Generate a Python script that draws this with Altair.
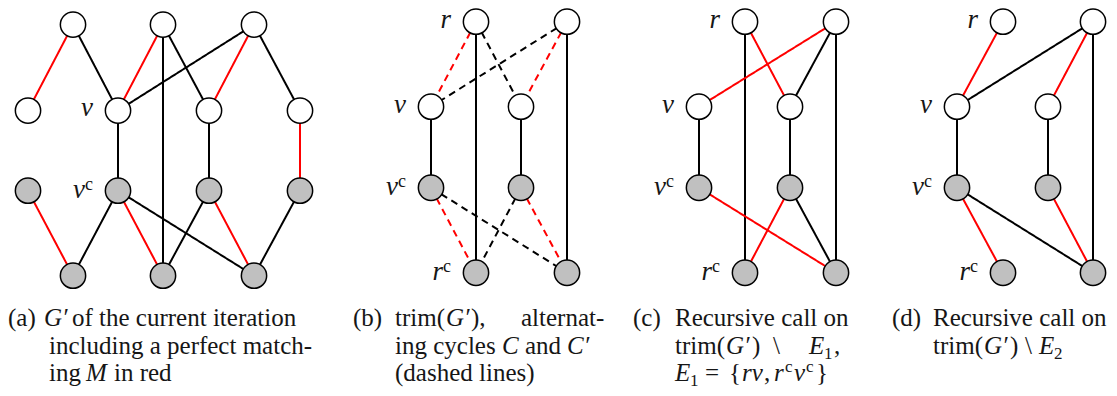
import altair as alt
import pandas as pd

# ---------------- node data (positions, in its pixels) -------------
a_ids = ["t1", "t2", "t3", "w1", "w2", "w3", "w4", "g1", "g2", "g3", "g4", "b1", "b2", "b3"]
a_x = [73, 163, 254, 28, 118, 209, 300, 28, 118, 209, 300, 73, 163, 254]
a_y = [18, 18, 18, 106, 106, 106, 106, 188, 188, 188, 188, 275, 275, 275]
a_fill = ["white"] * 7 + ["grey"] * 7

bcd_ids = ["r", "q", "v", "w", "vc", "wc", "rc", "qc"]
bcd_y = [15, 15, 102, 102, 185, 185, 272, 272]
bcd_fill = ["white", "white", "white", "white", "grey", "grey", "grey", "grey"]
b_x = [476, 567, 431, 521, 431, 521, 476, 567]
c_x = [745, 836, 699, 790, 699, 790, 745, 836]
d_x = [1003, 1093, 957, 1048, 957, 1048, 1003, 1093]

# ---------------- edges: (from, to, colour, dash) -------------
a_edges = [
    ("t1", "w1", "red", "solid"), ("t1", "w2", "black", "solid"),
    ("t2", "w2", "red", "solid"), ("t2", "b2", "black", "solid"),
    ("t2", "w3", "black", "solid"), ("t3", "w2", "black", "solid"),
    ("t3", "w3", "red", "solid"), ("t3", "w4", "black", "solid"),
    ("w2", "g2", "black", "solid"), ("w3", "g3", "black", "solid"),
    ("w4", "g4", "red", "solid"), ("g1", "b1", "red", "solid"),
    ("g2", "b1", "black", "solid"), ("g2", "b2", "red", "solid"),
    ("g2", "b3", "black", "solid"), ("g3", "b2", "black", "solid"),
    ("g3", "b3", "red", "solid"), ("g4", "b3", "black", "solid"),
]
b_edges = [
    ("r", "v", "red", "dashed"), ("r", "rc", "black", "solid"),
    ("r", "w", "black", "dashed"), ("q", "v", "black", "dashed"),
    ("q", "w", "red", "dashed"), ("q", "qc", "black", "solid"),
    ("v", "vc", "black", "solid"), ("w", "wc", "black", "solid"),
    ("vc", "rc", "red", "dashed"), ("vc", "qc", "black", "dashed"),
    ("wc", "rc", "black", "dashed"), ("wc", "qc", "red", "dashed"),
]
c_edges = [
    ("r", "rc", "black", "solid"), ("r", "w", "red", "solid"),
    ("q", "v", "red", "solid"), ("q", "w", "black", "solid"),
    ("q", "qc", "black", "solid"), ("v", "vc", "black", "solid"),
    ("w", "wc", "black", "solid"), ("vc", "qc", "red", "solid"),
    ("wc", "rc", "red", "solid"), ("wc", "qc", "black", "solid"),
]
d_edges = [
    ("r", "v", "red", "solid"), ("q", "v", "black", "solid"),
    ("q", "w", "red", "solid"), ("q", "qc", "black", "solid"),
    ("v", "vc", "black", "solid"), ("w", "wc", "black", "solid"),
    ("vc", "rc", "red", "solid"), ("vc", "qc", "black", "solid"),
    ("wc", "qc", "red", "solid"),
]

# ---------------- node labels: (panel, node, letter, superscript c?) -------------
node_labels = [
    ("a", "w2", "v", False), ("a", "g2", "v", True),
    ("b", "r", "r", False), ("b", "v", "v", False), ("b", "vc", "v", True), ("b", "rc", "r", True),
    ("c", "r", "r", False), ("c", "v", "v", False), ("c", "vc", "v", True), ("c", "rc", "r", True),
    ("d", "r", "r", False), ("d", "v", "v", False), ("d", "vc", "v", True), ("d", "rc", "r", True),
]

# ---------------- captions: (x, line, text, kind) kind: n=normal, i=italic, sub, sup -------------
caption_segments = [
    (8, 0, "(a)", "n"), (44, 0, "G\u2032", "i"), (72, 0, "of the current iteration", "n"),
    (49, 1, "including a perfect match-", "n"),
    (49, 2, "ing", "n"), (86, 2, "M", "i"), (114, 2, "in red", "n"),

    (353, 0, "(b)", "n"), (395, 0, "trim(", "n"), (446, 0, "G\u2032", "i"), (471, 0, "),", "n"),
    (521, 0, "alternat-", "n"),
    (395, 1, "ing cycles", "n"), (502, 1, "C", "i"), (525, 1, "and", "n"), (567, 1, "C\u2032", "i"),
    (395, 2, "(dashed lines)", "n"),

    (633, 0, "(c)", "n"), (675, 0, "Recursive call on", "n"),
    (675, 1, "trim(", "n"), (726, 1, "G\u2032", "i"), (752, 1, ")", "n"), (773, 1, "\\", "n"),
    (809, 1, "E", "i"), (824, 1, "1", "sub"), (834, 1, ",", "n"),
    (675, 2, "E", "i"), (690, 2, "1", "sub"), (705, 2, "=", "n"), (729, 2, "{", "n"),
    (742, 2, "rv", "i"), (764, 2, ",", "n"), (774, 2, "r", "i"), (785, 2, "c", "sup"),
    (794, 2, "v", "i"), (806, 2, "c", "sup"), (816, 2, "}", "n"),

    (892, 0, "(d)", "n"), (933, 0, "Recursive call on", "n"),
    (933, 1, "trim(", "n"), (984, 1, "G\u2032", "i"), (1010, 1, ")", "n"), (1025, 1, "\\", "n"),
    (1039, 1, "E", "i"), (1054, 1, "2", "sub"),
]
caption_baselines = [327, 355, 383]

# ---------------- build tables -------------
panels = {
    "a": (a_ids, a_x, a_y, a_fill, a_edges),
    "b": (bcd_ids, b_x, bcd_y, bcd_fill, b_edges),
    "c": (bcd_ids, c_x, bcd_y, bcd_fill, c_edges),
    "d": (bcd_ids, d_x, bcd_y, bcd_fill, d_edges),
}
fill_map = {"white": "#ffffff", "grey": "#c0c0c0"}
node_rows, edge_rows, pos = [], [], {}
for p, (ids, xs, ys, fills, edges) in panels.items():
    for i, nid in enumerate(ids):
        pos[(p, nid)] = (xs[i], ys[i])
        node_rows.append({"x": xs[i], "y": ys[i], "fill": fill_map[fills[i]]})
    for (s, t, col, dash) in edges:
        (x1, y1), (x2, y2) = pos[(p, s)], pos[(p, t)]
        edge_rows.append({"x": x1, "y": y1, "x2": x2, "y2": y2,
                          "color": "#ff0000" if col == "red" else "#000000", "dash": dash})

main_lab, sup_lab = [], []
for (p, nid, letter, sup) in node_labels:
    nx, ny = pos[(p, nid)]
    if sup:
        main_lab.append({"x": nx - 33, "y": ny + 7, "t": letter})
        sup_lab.append({"x": nx - 33, "y": ny - 1, "t": "c"})
    else:
        main_lab.append({"x": nx - 25, "y": ny + 6, "t": letter})

cap_rows = []
for (x, line, text, kind) in caption_segments:
    y = caption_baselines[line]
    if kind == "sub":
        y += 5
    elif kind == "sup":
        y -= 9
    cap_rows.append({"x": x, "y": y, "t": text, "kind": kind})
cap = pd.DataFrame(cap_rows)

X = alt.Scale(domain=[8, 1109], nice=False, zero=False)
Y = alt.Scale(domain=[1, 390], nice=False, zero=False, reverse=True)
FONT = "Liberation Serif"
TXT = "#161616"

edges_layer = alt.Chart(pd.DataFrame(edge_rows)).mark_rule(strokeWidth=2).encode(
    x=alt.X("x:Q", scale=X, axis=None),
    y=alt.Y("y:Q", scale=Y, axis=None),
    x2="x2:Q", y2="y2:Q",
    color=alt.Color("color:N", scale=None),
    strokeDash=alt.StrokeDash("dash:N", scale=alt.Scale(domain=["solid", "dashed"], range=[[1, 0], [7, 5]]), legend=None),
)

nodes_layer = alt.Chart(pd.DataFrame(node_rows)).mark_point(
    shape="circle", filled=True, size=640, strokeWidth=1.5, opacity=1
).encode(
    x=alt.X("x:Q", scale=X, axis=None),
    y=alt.Y("y:Q", scale=Y, axis=None),
    fill=alt.Fill("fill:N", scale=None),
    stroke=alt.value("#000000"),
)

lab_layer = alt.Chart(pd.DataFrame(main_lab)).mark_text(
    font=FONT, fontSize=27, fontStyle="italic", align="right", baseline="alphabetic", color=TXT
).encode(x=alt.X("x:Q", scale=X, axis=None), y=alt.Y("y:Q", scale=Y, axis=None), text="t:N")

sup_layer = alt.Chart(pd.DataFrame(sup_lab)).mark_text(
    font=FONT, fontSize=18, align="left", baseline="alphabetic", color=TXT
).encode(x=alt.X("x:Q", scale=X, axis=None), y=alt.Y("y:Q", scale=Y, axis=None), text="t:N")

def cap_layer(kind, size, style):
    return alt.Chart(cap[cap["kind"] == kind]).mark_text(
        font=FONT, fontSize=size, fontStyle=style, align="left", baseline="alphabetic", color=TXT
    ).encode(x=alt.X("x:Q", scale=X, axis=None), y=alt.Y("y:Q", scale=Y, axis=None), text="t:N")

chart = alt.layer(
    edges_layer, nodes_layer, lab_layer, sup_layer,
    cap_layer("n", 25, "normal"), cap_layer("i", 25, "italic"),
    cap_layer("sub", 17, "normal"), cap_layer("sup", 17, "normal"),
).properties(
    width=1101, height=380, padding=0, autosize=alt.AutoSizeParams(type="none")
).configure_view(stroke=None)

chart.save("out.html", embed_options={"renderer": "svg", "actions": False})
